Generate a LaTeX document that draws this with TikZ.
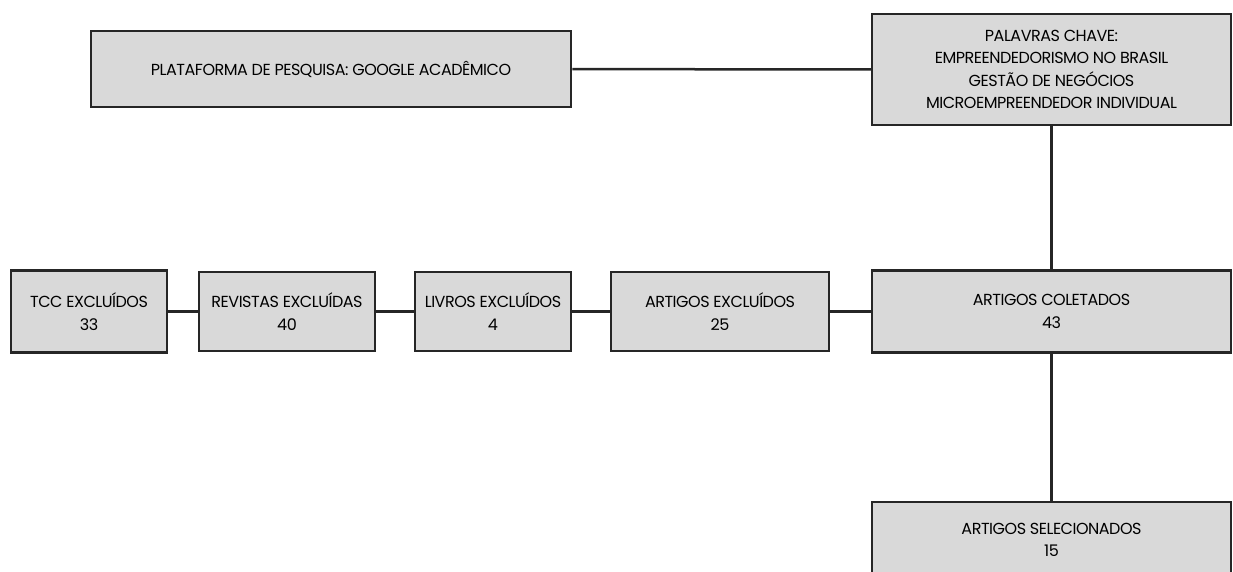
\documentclass[tikz,border=0pt]{standalone}
\usepackage{fontspec}
\setmainfont{Poppins}[LetterSpace=-3]
\definecolor{boxgray}{HTML}{D9D9D9}
\tikzset{
	caixa/.style={draw=black!85, line width=2.5pt, fill=boxgray, align=center, inner sep=0pt,
		font=\fontsize{16}{22.5}\selectfont},
	liga/.style={draw=black!85, line width=2.5pt}
}
\begin{document}
\begin{tikzpicture}[x=1pt,y=-1pt]
			\useasboundingbox (0,0) rectangle (1233,572);
			\clip (0,0) rectangle (1233,572);
			\node[caixa, minimum width=480pt, minimum height=76pt] (plataforma) at (331,69) {PLATAFORMA DE PESQUISA: GOOGLE ACADÊMICO};
			\node[caixa, minimum width=359pt, minimum height=111pt] (palavras) at (1051.5,69.5) {PALAVRAS CHAVE:\\EMPREENDEDORISMO NO BRASIL\\GESTÃO DE NEGÓCIOS\\MICROEMPREENDEDOR INDIVIDUAL};
			\node[caixa, minimum width=359pt, minimum height=82pt] (coletados) at (1051.5,311.5) {ARTIGOS COLETADOS\\43};
			\node[caixa, minimum width=218pt, minimum height=79pt] (artexc) at (720,311.5) {ARTIGOS EXCLUÍDOS\\25};
			\node[caixa, minimum width=156pt, minimum height=79pt] (livros) at (493,311.5) {LIVROS EXCLUÍDOS\\4};
			\node[caixa, minimum width=176pt, minimum height=79pt] (revistas) at (287,311.5) {REVISTAS EXCLUÍDAS\\40};
			\node[caixa, minimum width=156pt, minimum height=82pt] (tcc) at (89,311.5) {TCC EXCLUÍDOS\\33};
			\node[caixa, minimum width=359pt, minimum height=76pt] (selecionados) at (1051.5,540) {ARTIGOS SELECIONADOS\\15};
			\draw[liga] (plataforma) -- (palavras);
			\draw[liga] (palavras) -- (coletados);
			\draw[liga] (coletados) -- (selecionados);
			\draw[liga] (coletados) -- (artexc);
			\draw[liga] (artexc) -- (livros);
			\draw[liga] (livros) -- (revistas);
			\draw[liga] (revistas) -- (tcc);
		\end{tikzpicture}
\end{document}
